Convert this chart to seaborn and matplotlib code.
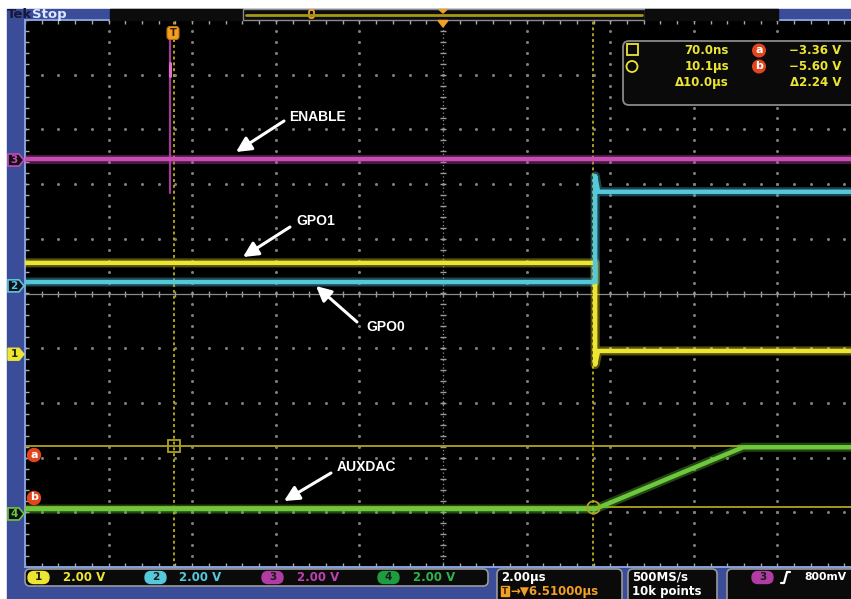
import numpy as np
import matplotlib
matplotlib.use("Agg")
import matplotlib.pyplot as plt
import seaborn as sns
from matplotlib.patches import Rectangle, FancyBboxPatch, Polygon, Circle
from matplotlib.transforms import blended_transform_factory

# scope settings
us_per_div = 2.0
trig_offset = 6.51                       # µs from trigger to screen centre
t_left = trig_offset - 5 * us_per_div
t_right = t_left + 9.88 * us_per_div     # screenshot is cropped on the right

# traces: time in µs after trigger, level in screen divisions
enable_t = [-3.49, 16.27]
enable_y = [2.46, 2.46]
glitch_t = [-0.03, -0.03]
glitch_y = [4.85, 1.84]
gpo1_t = [-3.49, 10.15, 10.15, 10.22, 16.27]
gpo1_y = [0.56, 0.56, -1.30, -1.05, -1.05]
gpo0_t = [-3.49, 10.15, 10.15, 10.22, 16.27]
gpo0_y = [0.21, 0.21, 2.15, 1.86, 1.86]
auxdac_t = [-3.49, 10.15, 13.69, 16.27]
auxdac_y = [-3.94, -3.94, -2.81, -2.81]

# channel ground markers and scale
ch_names = ["1", "2", "3", "4"]
ch_levels = [-1.11, 0.14, 2.44, -4.03]
ch_scale = ["2.00 V", "2.00 V", "2.00 V", "2.00 V"]

# cursors
cursor_t = [0.07, 10.1]
cursor_y = [-2.79, -3.90]
meas_time = ["70.0ns", "10.1µs", "Δ10.0µs"]
meas_volt = ["−3.36 V", "−5.60 V", "Δ2.24 V"]

YEL = "#ece532"
CYA = "#55c8dc"
MAG = "#c84cb4"
GRN = "#6cc83c"
ORA = "#f0a024"
BLUE = "#3b4d98"
CUR = "#b0a21c"
GRID = "#7c7c7c"
colors = {"1": YEL, "2": CYA, "3": MAG, "4": GRN}

W, H = 851, 599
fig = plt.figure(figsize=(W / 100, H / 100), dpi=100, facecolor="white")

bg = fig.add_axes([0, 0, 1, 1], zorder=0)
bg.set_xlim(0, W)
bg.set_ylim(H, 0)
bg.axis("off")
bg.add_patch(Rectangle((7, 9), W, H, color=BLUE))

# ---- main graticule ----
ax = fig.add_axes([25 / W, (H - 567) / H, (W - 25) / W, 547 / H], zorder=1)
sns.set_style("dark")
ax.set_facecolor("black")
ax.set_xlim(t_left, t_right)
ax.set_ylim(-5, 5)
ax.set_xticks([])
ax.set_yticks([])
for s in ["top", "left", "bottom"]:
    ax.spines[s].set_color("#86a2dc")
    ax.spines[s].set_linewidth(1.4)
ax.spines["right"].set_visible(False)

div_x = t_left + us_per_div * np.arange(11)
div_y = np.arange(-5, 6)
fine_x = t_left + 0.4 * np.arange(51)
fine_y = np.arange(-5, 5.01, 0.2)
for gx in div_x[1:-1]:
    if abs(gx - trig_offset) > 1e-6:
        ax.plot(np.full(len(fine_y), gx), fine_y, ls="none", marker="o", ms=1.2, color=GRID, zorder=1)
for gy in div_y[1:-1]:
    if gy != 0:
        ax.plot(fine_x, np.full(len(fine_x), gy), ls="none", marker="o", ms=1.2, color=GRID, zorder=1)
# centre lines with ticks
ax.axhline(0, color="#8a8a8a", lw=0.9, zorder=1)
ax.plot(fine_x, np.zeros(len(fine_x)), ls="none", marker="|", ms=4, color="#9a9a9a", zorder=1)
ax.axvline(trig_offset, color="#8a8a8a", lw=0.9, ls=(0, (1, 2)), zorder=1)
ax.plot(np.full(len(fine_y), trig_offset), fine_y, ls="none", marker="_", ms=4, color="#9a9a9a", zorder=1)
# edge ticks
ax.plot(fine_x, np.full(len(fine_x), 5), ls="none", marker="|", ms=6, color="#aaaaaa", zorder=1)
ax.plot(fine_x, np.full(len(fine_x), -5), ls="none", marker="|", ms=6, color="#aaaaaa", zorder=1)
ax.plot(np.full(len(fine_y), t_left), fine_y, ls="none", marker="_", ms=6, color="#aaaaaa", zorder=1)

# cursors
for cy in cursor_y:
    ax.axhline(cy, color=CUR, lw=1.3, zorder=2)
for ct in cursor_t:
    ax.axvline(ct, color=CUR, lw=1.4, ls=(0, (1.5, 1.5)), zorder=2)

# traces
traces = [(enable_t, enable_y, MAG), (gpo1_t, gpo1_y, YEL),
          (gpo0_t, gpo0_y, CYA), (auxdac_t, auxdac_y, GRN)]
for tt, yy, c in traces:
    sns.lineplot(x=tt, y=yy, ax=ax, estimator=None, sort=False, color=c,
                 lw=6.5, alpha=0.35, zorder=3)
    sns.lineplot(x=tt, y=yy, ax=ax, estimator=None, sort=False, color=c,
                 lw=3.2, zorder=4)
sns.lineplot(x=glitch_t, y=glitch_y, ax=ax, estimator=None, sort=False,
             color="#a03c92", lw=1.6, zorder=3)
sns.lineplot(x=[glitch_t[0], glitch_t[0]], y=[4.22, 3.98], ax=ax, estimator=None,
             sort=False, color="#e070d0", lw=2.2, zorder=4)

ax.plot(cursor_t[0], cursor_y[0], marker="s", ms=8, mfc="none", mec=CUR, mew=1.3, zorder=5)
ax.plot(cursor_t[1], cursor_y[1], marker="o", ms=9, mfc="none", mec=CUR, mew=1.3, zorder=5)

# ---- overlay in pixel coordinates ----
ov = fig.add_axes([0, 0, 1, 1], zorder=2)
ov.set_xlim(0, W)
ov.set_ylim(H, 0)
ov.axis("off")
ov.patch.set_alpha(0)

mono = dict(family="DejaVu Sans", weight="bold")

# top bar
ov.text(7, 14.5, "Tek", color="#14163a", fontsize=9.5, va="center", **mono)
ov.text(32, 14.5, "Stop", color="#dfe6ff", fontsize=9.5, va="center", **mono)
ov.add_patch(Rectangle((110, 9), 133, 11, color="#0c0c0c"))
ov.add_patch(Rectangle((243, 9), 402, 11, fc="#0c0c0c", ec="#8a8a8a", lw=1))
ov.add_patch(Rectangle((645, 9), 133, 11, color="#0c0c0c"))
ov.plot([246, 642], [14.5, 14.5], color="#a89818", lw=2)
ov.add_patch(FancyBboxPatch((309, 10), 5, 8, boxstyle="round,pad=0,rounding_size=2",
                            fc="none", ec=ORA, lw=1.3))
ov.add_patch(Polygon([[439, 9.5], [447, 9.5], [443, 13]], color=ORA))
ov.add_patch(Polygon([[438, 20.5], [448, 20.5], [443, 27]], color=ORA))

# trigger marker
ov.add_patch(FancyBboxPatch((167, 26.5), 12, 13, boxstyle="round,pad=0,rounding_size=3",
                            fc=ORA, ec="#c07010", lw=0.8))
ov.text(173, 33, "T", color="#3a2000", fontsize=7, ha="center", va="center", **mono)

# channel markers on the left
bt = blended_transform_factory(ov.transData, ax.transData)
for name, lvl in zip(ch_names, ch_levels):
    c = colors[name]
    pts = [[8, -0.11], [19, -0.11], [24, 0], [19, 0.11], [8, 0.11]]
    pts = [[px, lvl + py] for px, py in pts]
    if name == "1":
        ov.add_patch(Polygon(pts, closed=True, fc=c, ec=c, lw=1, transform=bt, clip_on=False))
        tc = "#222200"
    else:
        ov.add_patch(Polygon(pts, closed=True, fc="#101018", ec=c, lw=1.2, transform=bt, clip_on=False))
        tc = c
    ov.text(14, lvl, name, color=tc, fontsize=7.5, ha="center", va="center",
            transform=bt, **mono)

# cursor letters
for lbl, py in [("a", 455), ("b", 498)]:
    ov.add_patch(Circle((34, py), 6.5, color="#e2461e"))
    ov.text(34, py - 0.5, lbl, color="white", fontsize=8, ha="center", va="center", **mono)

# measurement box
ov.add_patch(FancyBboxPatch((623, 41), 240, 64, boxstyle="round,pad=0,rounding_size=6",
                            fc="#0a0a0a", ec="#8a8a8a", lw=1.3))
ov.add_patch(Rectangle((627, 44), 10.5, 11, fc="none", ec=YEL, lw=1.3))
ov.add_patch(Circle((632, 66.5), 5.5, fc="none", ec=YEL, lw=1.3))
row_y = [50.5, 66.5, 82.5]
for i in range(3):
    ov.text(729, row_y[i], meas_time[i], color=YEL, fontsize=8.5, ha="right", va="center", **mono)
    ov.text(841, row_y[i], meas_volt[i], color=YEL, fontsize=8.5, ha="right", va="center", **mono)
for lbl, py in [("a", 50.5), ("b", 66.5)]:
    ov.add_patch(Circle((759, py), 6.3, color="#e2461e"))
    ov.text(759, py - 0.5, lbl, color="white", fontsize=8, ha="center", va="center", **mono)

# annotations
ann = [("ENABLE", (289, 117), (284, 121), (236, 152)),
       ("GPO1", (296, 221), (290, 227), (243, 257)),
       ("GPO0", (366, 327), (357, 322), (316, 286)),
       ("AUXDAC", (337, 467), (331, 473), (284, 501))]
for label, tpos, tail, head in ann:
    ov.text(tpos[0], tpos[1], label, color="white", fontsize=10, ha="left", va="center",
            family="Liberation Sans", weight="bold")
    ov.annotate("", xy=head, xytext=tail,
                arrowprops=dict(arrowstyle="-|>,head_length=0.9,head_width=0.45",
                                color="white", lw=2.2, shrinkA=0, shrinkB=0))

# status bar
ov.add_patch(FancyBboxPatch((25, 569), 463, 17, boxstyle="round,pad=0,rounding_size=5",
                            fc="#0a0a0a", ec="#9a9a9a", lw=1.2))
pill_x = [28, 145, 262, 378]
text_x = [63, 179, 297, 413]
pill_fill = {"1": YEL, "2": CYA, "3": "#b03ca4", "4": "#1e9c40"}
text_col = {"1": YEL, "2": CYA, "3": "#c040b0", "4": "#2cb44c"}
for name, px, tx, sc in zip(ch_names, pill_x, text_x, ch_scale):
    ov.add_patch(FancyBboxPatch((px, 571.5), 21, 12, boxstyle="round,pad=0,rounding_size=6",
                                color=pill_fill[name]))
    ov.text(px + 10.5, 577.5, name, color="#1a1a1a", fontsize=7.5, ha="center", va="center", **mono)
    ov.text(tx, 577.5, sc, color=text_col[name], fontsize=8.5, ha="left", va="center", **mono)

for x0, w in [(497, 125), (628, 89), (727, 140)]:
    ov.add_patch(FancyBboxPatch((x0, 569), w, 40, boxstyle="round,pad=0,rounding_size=5",
                                fc="#0a0a0a", ec="#9a9a9a", lw=1.2))
ov.text(501, 577.5, "2.00µs", color="white", fontsize=8.5, ha="left", va="center", **mono)
ov.add_patch(Rectangle((501, 586), 8, 10, color=ORA))
ov.text(505, 591, "T", color="#3a2000", fontsize=6, ha="center", va="center", **mono)
ov.text(510, 591, "→▼6.51000µs", color=ORA, fontsize=8.5, ha="left", va="center", **mono)
ov.text(632, 577.5, "500MS/s", color="white", fontsize=8.5, ha="left", va="center", **mono)
ov.text(632, 591, "10k points", color="white", fontsize=8.5, ha="left", va="center", **mono)
ov.add_patch(FancyBboxPatch((752, 571.5), 21, 12, boxstyle="round,pad=0,rounding_size=6",
                            color="#b03ca4"))
ov.text(762.5, 577.5, "3", color="#1a1a1a", fontsize=7.5, ha="center", va="center", **mono)
ov.plot([781, 784, 787, 790], [583, 583, 572, 572], color="white", lw=1.6)
ov.text(804, 577.5, "800mV", color="white", fontsize=7.8, ha="left", va="center", **mono)

fig.savefig("out.png", dpi=100)
